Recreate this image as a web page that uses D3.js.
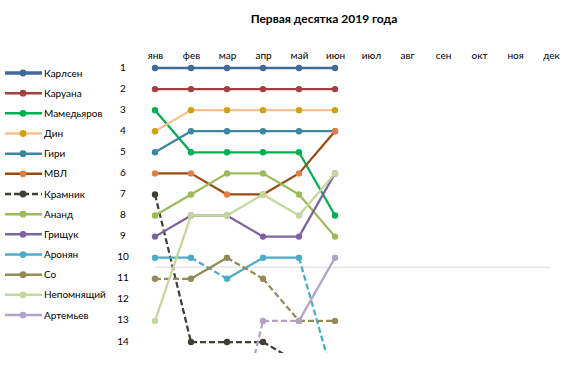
<!DOCTYPE html>
<html><head><meta charset="utf-8">
<script src="https://cdn.jsdelivr.net/npm/d3@7"></script>
<style>
body{margin:0;background:#fff;}
svg{font-family:Lato,"Open Sans",sans-serif;}
</style></head>
<body><svg id="c" width="563" height="369"></svg>
<script>
const title = "Первая десятка 2019 года";
const months = ["янв","фев","мар","апр","май","июн","июл","авг","сен","окт","ноя","дек"];
const ranks = [1,2,3,4,5,6,7,8,9,10,11,12,13,14];
const players = ["Карлсен","Каруана","Мамедьяров","Дин","Гири","МВЛ","Крамник","Ананд","Грищук","Аронян","Со","Непомнящий","Артемьев"];
const karlsen    = [1,1,1,1,1,1];
const caruana    = [2,2,2,2,2,2];
const mamedyarov = [3,5,5,5,5,8];
const ding       = [4,3,3,3,3,3];
const giri       = [5,4,4,4,4,4];
const mvl        = [6,6,7,7,6,4];
const kramnik    = [7,14,14,14,15,null];
const anand      = [8,7,6,6,7,9];
const grischuk   = [9,8,8,9,9,6];
const aronian    = [10,10,11,10,10,16];
const so         = [11,11,10,11,13,13];
const nepo       = [13,8,8,7,8,6];
const artemiev   = [null,null,20,13,13,10];
// dashed flags per segment (segment i: month i -> month i+1)
const kramnikDash = [1,1,1,1,1];
const aronianDash = [0,1,0,0,1];
const soDash      = [1,0,1,1,1];
const artemievDash= [0,0,1,1,0];
const noDash      = [0,0,0,0,0];
const lineColors  = ["#41699c","#a2403d","#00b050","#f8c08f","#3b86a0","#984a0c","#3f3f36","#9bbb59","#7f63a1","#4bacc6","#948a54","#c4d79b","#b3a2c8"];
const markColors  = ["#41699c","#a2403d","#00b050","#d0a010","#3b86a0","#df7e45","#3f3f36","#9bbb59","#7f63a1","#4bacc6","#948a54","#c4d79b","#b3a2c8"];

const seriesVals = [karlsen,caruana,mamedyarov,ding,giri,mvl,kramnik,anand,grischuk,aronian,so,nepo,artemiev];
const seriesDash = [noDash,noDash,noDash,noDash,noDash,noDash,kramnikDash,noDash,noDash,aronianDash,soDash,noDash,artemievDash];

const svg = d3.select("#c");
const x = d3.scalePoint().domain(months).range([155,551]);
const y = d3.scaleLinear().domain([1,14]).range([68,342]);

svg.append("text").attr("x",324).attr("y",23).attr("text-anchor","middle")
  .attr("font-size",12).attr("font-weight","bold").attr("fill","#000").text(title);

// month axis
const ax = svg.append("g").attr("transform","translate(0,61)")
  .call(d3.axisTop(x).tickSize(0).tickPadding(2));
ax.select(".domain").remove();
ax.selectAll("text").attr("font-size",10).attr("fill","#000").attr("font-family","Lato, Open Sans, sans-serif");

// rank axis
const ay = svg.append("g").attr("transform","translate(127,0)")
  .call(d3.axisLeft(y).tickValues(ranks).tickFormat(d3.format("d")).tickSize(0).tickPadding(0));
ay.select(".domain").remove();
ay.selectAll("text").attr("font-size",10).attr("fill","#000").attr("text-anchor","middle").attr("x",-4).attr("dy","0.2em")
  .attr("font-family","Lato, Open Sans, sans-serif");

// separator line
svg.append("line").attr("x1",x("янв")).attr("x2",x("дек")).attr("y1",y(10.45)).attr("y2",y(10.45))
  .attr("stroke","#d9d9d9").attr("stroke-width",1);

svg.append("clipPath").attr("id","clip").append("rect").attr("x",140).attr("y",57).attr("width",420).attr("height",296);
const plot = svg.append("g").attr("clip-path","url(#clip)");

seriesVals.forEach((vals,si)=>{
  const g = plot.append("g");
  for(let i=0;i<vals.length-1;i++){
    if(vals[i]==null||vals[i+1]==null) continue;
    g.append("line").attr("x1",x(months[i])).attr("x2",x(months[i+1]))
      .attr("y1",y(vals[i])).attr("y2",y(vals[i+1]))
      .attr("stroke",lineColors[si]).attr("stroke-width",si===0?2.5:2.25)
      .attr("stroke-dasharray",seriesDash[si][i]?"6,3":null);
  }
  vals.forEach((v,i)=>{
    if(v==null) return;
    g.append("circle").attr("cx",x(months[i])).attr("cy",y(v)).attr("r",3.2).attr("fill",markColors[si]);
  });
});

// legend
const lg = svg.append("g");
players.forEach((p,i)=>{
  const yy = 73 + i*20.17;
  const dashed = i===6;
  lg.append("line").attr("x1",5).attr("x2",42).attr("y1",yy).attr("y2",yy)
    .attr("stroke",lineColors[i]).attr("stroke-width",i===0?3.5:2.5)
    .attr("stroke-dasharray",dashed?"6,3":null);
  lg.append("circle").attr("cx",23).attr("cy",yy).attr("r",3.4).attr("fill",markColors[i]);
  lg.append("text").attr("x",44).attr("y",yy).attr("dy","0.35em").attr("font-size",10).attr("fill","#000").text(p);
});
</script></body></html>
